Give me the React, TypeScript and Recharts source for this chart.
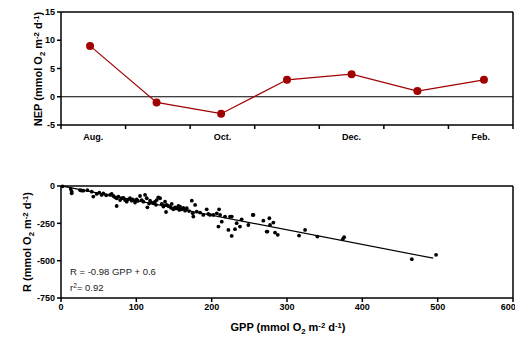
import React from 'react';
import { LineChart, Line, ScatterChart, Scatter, XAxis, YAxis, ReferenceLine } from 'recharts';

// top panel: NEP per sampling date
const samplePos = [0.45, 1.48, 2.48, 3.5, 4.5, 5.52, 6.55];
const nepValues = [9, -1, -3, 3, 4, 1, 3];
const monthPos = [0.5, 2.5, 4.5, 6.5];
const monthLabels = ['Aug.', 'Oct.', 'Dec.', 'Feb.'];
const sectionTicks = [0, 1, 2, 3, 4, 5, 6, 7];
const nepTicks = [-5, 0, 5, 10, 15];

// bottom panel: R vs GPP
const gppValues = [
  2, 13, 14.2, 14.2, 25.2, 27, 29.6, 35, 40.8, 42.9, 47.4, 50.9, 54, 56.2, 65.1, 67.3, 69.5, 71.7, 73.9, 76.1,
  73.9, 78.4, 80.6, 85, 87.2, 89.4, 91.6, 93.8, 96, 98.3, 100.5, 104.9, 107.1, 109.3, 111.6, 113.8, 114.7, 118.2, 120.4, 122.6,
  124.8, 127.1, 129.2, 131.5, 133.7, 135.9, 138.1, 139.4, 140.4, 142.5, 144.7, 147, 149.1, 151.4, 153.6, 155.8, 158, 160.3, 162.4, 164.7,
  166.9, 173.6, 174.9, 175.7, 178, 180.2, 184.6, 188.9, 193.4, 195.6, 197.9, 202.3, 206.8, 209, 211.2, 213.4, 217.8, 222.2, 224.4, 226.6,
  231, 233.2, 237.6, 239.8, 248.7, 254.6, 209.8, 226.7, 255.4, 268.6, 273, 274, 276.6, 277.5, 281.9, 284.1, 287.7, 316, 324, 340.3,
  374, 375.8, 465.7, 497.9, 60, 83, 95, 102, 117, 126, 136, 146, 152, 157, 170,
];
const rValues = [
  -2, -20, -38, -49, -27, -30, -31, -28, -38, -71, -53, -45, -60, -49, -60, -53, -67, -76, -82, -71,
  -134, -94, -82, -94, -105, -89, -82, -98, -94, -111, -89, -67, -94, -105, -60, -82, -143, -98, -111, -116,
  -105, -94, -76, -82, -120, -138, -105, -174, -127, -134, -138, -120, -156, -143, -149, -134, -138, -156, -147, -165,
  -149, -98, -183, -205, -127, -172, -178, -194, -156, -187, -194, -194, -183, -272, -194, -239, -205, -294, -205, -334,
  -289, -249, -272, -223, -261, -194, -156, -205, -194, -232, -305, -305, -216, -261, -245, -312, -327, -332, -294, -339,
  -356, -343, -490, -461, -62, -80, -90, -100, -118, -126, -130, -146, -150, -160, -168,
];
const gppTicks = [0, 100, 200, 300, 400, 500, 600];
const rTicks = [-750, -500, -250, 0];
const slope = -0.98;
const intercept = 0.6;
const fitMax = 494;

const nepData = samplePos.map((pos, i) => ({ pos, nep: nepValues[i] }));
const scatterData = gppValues.map((gpp, i) => ({ gpp, r: rValues[i] }));

const RED = '#a00000';
const axisStyle = { stroke: '#000', strokeWidth: 1.5 };
const tickStyle = { fontSize: 9, fontWeight: 'bold', fill: '#000' } as const;
const smallStyle: React.CSSProperties = { fontSize: '0.7em', lineHeight: 0, position: 'relative' };

// integer positions get a tick mark, half positions get the month name
function MonthTick(props: any) {
  const { x, y, payload } = props;
  const v = payload.value as number;
  const idx = monthPos.indexOf(v);
  if (idx < 0) {
    return <line x1={x} x2={x} y1={y} y2={y + 4} stroke="#000" strokeWidth={1.5} />;
  }
  return (
    <text x={x} y={y + 15} textAnchor="middle" fontSize={9} fontWeight="bold" fill="#000">
      {monthLabels[idx]}
    </text>
  );
}

function Units({ name }: { name: string }) {
  return (
    <>
      {name} (mmol O<span style={{ ...smallStyle, top: '0.35em' }}>2</span> m
      <span style={{ ...smallStyle, top: '-0.45em' }}>-2</span> d
      <span style={{ ...smallStyle, top: '-0.45em' }}>-1</span>)
    </>
  );
}

export default function App() {
  const font = '"Liberation Sans", Arial, sans-serif';
  return (
    <div style={{ position: 'absolute', left: 0, top: 0, width: 515, height: 337, fontFamily: font, background: '#fff' }}>
      <div style={{ position: 'absolute', left: 0, top: 0 }}>
        <LineChart width={515} height={165} data={nepData} margin={{ top: 12, right: 2, bottom: 0, left: 0 }} style={{ fontFamily: font }}>
          <XAxis
            type="number"
            dataKey="pos"
            domain={[0, 7]}
            ticks={[...sectionTicks, ...monthPos].sort((a, b) => a - b)}
            interval={0}
            axisLine={axisStyle}
            tickLine={false}
            tickSize={0}
            tickMargin={0}
            height={40}
            tick={<MonthTick />}
          />
          <YAxis
            type="number"
            domain={[-5, 15]}
            ticks={nepTicks}
            width={61}
            tickSize={4}
            tickMargin={2}
            axisLine={axisStyle}
            tickLine={axisStyle}
            tick={tickStyle}
          />
          <ReferenceLine y={15} stroke="#000" strokeWidth={1.5} />
          <ReferenceLine x={7} stroke="#000" strokeWidth={1.5} />
          <ReferenceLine y={0} stroke="#000" strokeWidth={1.2} />
          <Line
            dataKey="nep"
            stroke={RED}
            strokeWidth={1.2}
            dot={{ r: 4, fill: RED, stroke: RED, strokeWidth: 0 }}
            isAnimationActive={false}
          />
        </LineChart>
      </div>
      <div style={{ position: 'absolute', left: 0, top: 174 }}>
        <ScatterChart width={515} height={163} margin={{ top: 12, right: 2, bottom: 0, left: 0 }} style={{ fontFamily: font }}>
          <XAxis
            type="number"
            dataKey="gpp"
            domain={[0, 600]}
            ticks={gppTicks}
            height={39}
            tickSize={4}
            tickMargin={2}
            axisLine={axisStyle}
            tickLine={axisStyle}
            tick={tickStyle}
          />
          <YAxis
            type="number"
            dataKey="r"
            domain={[-750, 0]}
            ticks={rTicks}
            width={61}
            tickSize={4}
            tickMargin={2}
            axisLine={axisStyle}
            tickLine={axisStyle}
            tick={tickStyle}
          />
          <ReferenceLine y={0} stroke="#000" strokeWidth={1.5} />
          <ReferenceLine x={600} stroke="#000" strokeWidth={1.5} />
          <ReferenceLine
            segment={[
              { x: 0, y: intercept },
              { x: fitMax, y: slope * fitMax + intercept },
            ]}
            ifOverflow="visible"
            stroke="#000"
            strokeWidth={1.2}
          />
          <Scatter
            data={scatterData}
            isAnimationActive={false}
            shape={(p: any) => <circle cx={p.cx} cy={p.cy} r={1.9} fill="#000" />}
          />
        </ScatterChart>
      </div>

      {/* axis titles and fit annotation */}
      <div style={titleStyle(38, 69, true)}>
        <Units name="NEP" />
      </div>
      <div style={titleStyle(27, 242, true)}>
        <Units name="R" />
      </div>
      <div style={titleStyle(288, 327, false)}>
        <Units name="GPP" />
      </div>
      <div style={{ position: 'absolute', left: 70, top: 264, fontSize: 9.5, color: '#222', lineHeight: '16px' }}>
        <div>R = -0.98 GPP + 0.6</div>
        <div>
          r<span style={{ ...smallStyle, top: '-0.45em' }}>2</span>= 0.92
        </div>
      </div>
    </div>
  );
}

function titleStyle(cx: number, cy: number, rotate: boolean): React.CSSProperties {
  return {
    position: 'absolute',
    left: cx,
    top: cy,
    transform: `translate(-50%, -50%)${rotate ? ' rotate(-90deg)' : ''}`,
    whiteSpace: 'nowrap',
    fontSize: 11,
    fontWeight: 'bold',
    color: '#000',
    lineHeight: '12px',
  };
}
